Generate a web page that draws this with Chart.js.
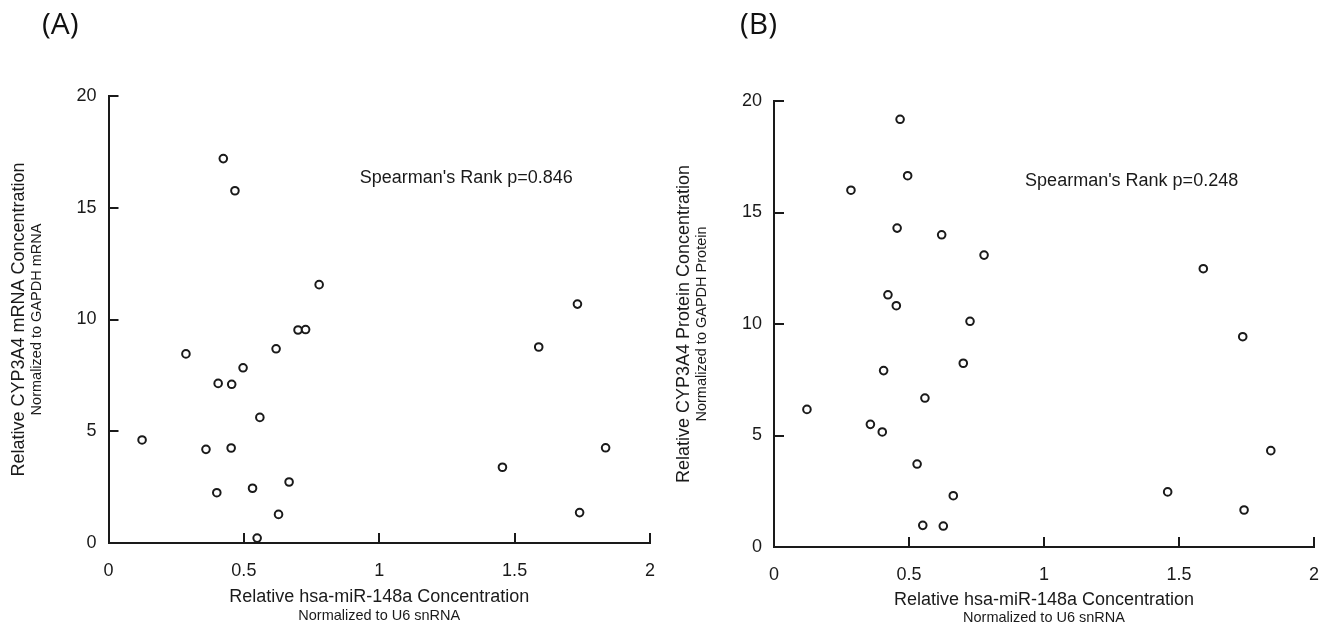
<!DOCTYPE html>
<html>
<head>
<meta charset="utf-8">
<script src="https://cdn.jsdelivr.net/npm/chart.js@4/dist/chart.umd.min.js"></script>
<style>
  html, body { margin: 0; padding: 0; background: #fff; }
  .panel { position: absolute; top: 0; width: 663px; height: 630px; }
  .tag { position: absolute; top: 2px; font-family: "Open Sans", sans-serif; font-size: 30px; color: #111; }
</style>
</head>
<body>
<div class="panel" style="left:0"><canvas id="mrnaChart" width="663" height="630"></canvas></div>
<div class="panel" style="left:663px"><canvas id="proteinChart" width="663" height="630"></canvas></div>
<div class="tag" style="left:42px">(A)</div>
<div class="tag" style="left:740px">(B)</div>

<script>
// relative hsa-miR-148a vs CYP3A4 mRNA (panel A)
const mirnaA = [0.124, 0.286, 0.360, 0.400, 0.405, 0.424, 0.455, 0.453, 0.467, 0.497, 0.532, 0.549,
                0.559, 0.619, 0.628, 0.667, 0.700, 0.728, 0.778, 1.455, 1.589, 1.732, 1.740, 1.836];
const mrnaA  = [4.61, 8.46, 4.19, 2.25, 7.14, 17.2, 7.10, 4.25, 15.76, 7.84, 2.45, 0.22,
                5.62, 8.69, 1.28, 2.73, 9.53, 9.55, 11.56, 3.39, 8.77, 10.69, 1.36, 4.26];

// relative hsa-miR-148a vs CYP3A4 protein (panel B)
const mirnaB   = [0.122, 0.285, 0.357, 0.401, 0.406, 0.422, 0.453, 0.456, 0.467, 0.495, 0.530, 0.551,
                  0.559, 0.621, 0.627, 0.664, 0.701, 0.726, 0.778, 1.458, 1.590, 1.736, 1.741, 1.840];
const proteinB = [6.17, 16.0, 5.50, 5.16, 7.91, 11.31, 10.82, 14.30, 19.18, 16.65, 3.72, 0.97,
                  6.68, 14.0, 0.94, 2.30, 8.24, 10.12, 13.09, 2.47, 12.48, 9.43, 1.66, 4.32];

const xTicks = [0, 0.5, 1, 1.5, 2];
const yTicks = [0, 5, 10, 15, 20];

const INK = '#1a1a1a';
const FONT = '"Liberation Sans", Arial, sans-serif';

// draws the small "Normalized to ..." lines and the Spearman note
const extrasPlugin = {
  id: 'extras',
  afterDraw(chart, args, opts) {
    const ctx = chart.ctx;
    const area = chart.chartArea;
    const xs = chart.scales.x, ys = chart.scales.y;
    ctx.save();
    ctx.fillStyle = INK;
    ctx.textBaseline = 'middle';

    ctx.font = '18px ' + FONT;
    ctx.textAlign = 'left';
    ctx.fillText(opts.note, xs.getPixelForValue(opts.noteAt[0]), ys.getPixelForValue(opts.noteAt[1]));

    ctx.font = '14.5px ' + FONT;
    ctx.textAlign = 'center';
    ctx.fillText(opts.xSub, (area.left + area.right) / 2, area.bottom + opts.xSubGap);

    ctx.translate(area.left - 72, (area.top + area.bottom) / 2);
    ctx.rotate(-Math.PI / 2);
    ctx.fillText(opts.ySub, 0, 0);
    ctx.restore();
  }
};

function makeScatter(id, xs, ys, cfg) {
  const points = xs.map((x, i) => ({ x: x, y: ys[i] }));
  return new Chart(document.getElementById(id), {
    type: 'scatter',
    data: {
      datasets: [{
        data: points,
        pointStyle: 'circle',
        pointRadius: 3.8,
        pointBorderWidth: 2,
        pointBorderColor: INK,
        pointBackgroundColor: '#fff'
      }]
    },
    options: {
      responsive: false,
      animation: false,
      layout: { padding: { left: 0, right: cfg.right, top: cfg.top, bottom: 0 } },
      scales: {
        x: {
          type: 'linear',
          min: 0, max: 2,
          afterBuildTicks: s => { s.ticks = xTicks.map(v => ({ value: v })); },
          afterFit: s => { s.height = cfg.xHeight; s.paddingLeft = 0; s.paddingRight = 0; },
          border: { display: true, color: INK, width: 2 },
          grid: { drawOnChartArea: false, drawTicks: true, tickLength: -10, color: INK, lineWidth: 2 },
          ticks: { color: INK, font: { family: FONT, size: 18 }, padding: 27, maxRotation: 0,
                   callback: v => String(v) },
          title: { display: true, text: 'Relative hsa-miR-148a Concentration', color: INK,
                   font: { family: FONT, size: 18 }, padding: { top: 0, bottom: cfg.xTitlePad } }
        },
        y: {
          type: 'linear',
          min: 0, max: 20,
          afterBuildTicks: s => { s.ticks = yTicks.map(v => ({ value: v })); },
          afterFit: s => { s.width = cfg.yWidth; s.paddingTop = 0; s.paddingBottom = 0; },
          border: { display: true, color: INK, width: 2 },
          grid: { drawOnChartArea: false, drawTicks: true, tickLength: -10, color: INK, lineWidth: 2 },
          ticks: { color: INK, font: { family: FONT, size: 18 }, padding: 22,
                   callback: v => String(v) },
          title: { display: true, text: cfg.yTitle, color: INK,
                   font: { family: FONT, size: 18 }, padding: { top: cfg.yTitlePad, bottom: 0 } }
        }
      },
      plugins: {
        legend: { display: false },
        tooltip: { enabled: false },
        extras: { note: cfg.note, noteAt: cfg.noteAt, xSub: 'Normalized to U6 snRNA',
                  ySub: cfg.ySub, xSubGap: cfg.xSubGap }
      }
    },
    plugins: [extrasPlugin]
  });
}

const mrnaChart = makeScatter('mrnaChart', mirnaA, mrnaA, {
  right: 13, top: 96, xHeight: 87, yWidth: 108.5,
  xTitlePad: 22, yTitlePad: 8, xSubGap: 73,
  yTitle: 'Relative CYP3A4 mRNA Concentration',
  ySub: 'Normalized to GAPDH mRNA',
  note: "Spearman's Rank p=0.846", noteAt: [0.928, 16.33]
});

const proteinChart = makeScatter('proteinChart', mirnaB, proteinB, {
  right: 12, top: 101, xHeight: 83, yWidth: 111,
  xTitlePad: 19, yTitlePad: 10, xSubGap: 71,
  yTitle: 'Relative CYP3A4 Protein Concentration',
  ySub: 'Normalized to GAPDH Protein',
  note: "Spearman's Rank p=0.248", noteAt: [0.93, 16.4]
});
</script>
</body>
</html>
